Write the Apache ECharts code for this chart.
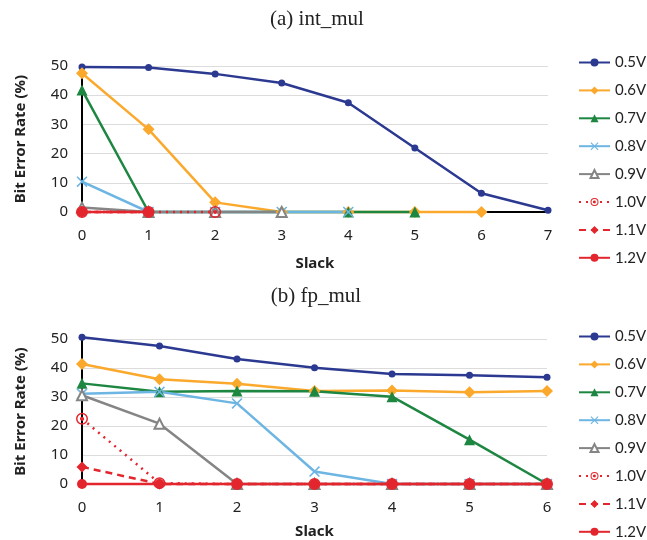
<!DOCTYPE html>
<html><head><meta charset="utf-8">
<script src="https://cdn.jsdelivr.net/npm/echarts@6/dist/echarts.min.js"></script>
<style>html,body{margin:0;padding:0;background:#fff}#c{width:647px;height:540px}</style>
</head><body><div id="c"></div>
<script>
const seriesNames = ['0.5V','0.6V','0.7V','0.8V','0.9V','1.0V','1.1V','1.2V'];
const slackA = ['0','1','2','3','4','5','6','7'];
const slackB = ['0','1','2','3','4','5','6'];
const yTicks = [0,10,20,30,40,50];
// (a) int_mul
const a05 = [49.7, 49.5, 47.3, 44.2, 37.4, 21.9, 6.4, 0.6];
const a06 = [47.5, 28.3, 3.3, 0, 0, 0, 0];
const a07 = [41.8, 0, 0, 0, 0, 0];
const a08 = [10.4, 0, 0, 0, 0];
const a09 = [1.5, 0, 0, 0];
const a10 = [0, 0, 0];
const a11 = [0, 0];
const a12 = [0, 0];
// (b) fp_mul
const b05 = [50.6, 47.6, 43.1, 40.1, 37.9, 37.5, 36.8];
const b06 = [41.4, 36.1, 34.6, 32.1, 32.2, 31.6, 32.1];
const b07 = [34.7, 31.8, 32.1, 32.0, 30.1, 15.3, 0];
const b08 = [31.1, 31.8, 27.8, 4.3, 0, 0, 0];
const b09 = [30.6, 20.8, 0, 0, 0, 0, 0];
const b10 = [22.5, 0.3, 0, 0, 0, 0, 0];
const b11 = [5.9, 0, 0, 0, 0, 0, 0];
const b12 = [0, 0, 0, 0, 0, 0, 0];

const dataA = [a05,a06,a07,a08,a09,a10,a11,a12];
const dataB = [b05,b06,b07,b08,b09,b10,b11,b12];

const RED = '#E3262D';
const xPath = 'path://M-10,-8 L-8,-10 L0,-2 L8,-10 L10,-8 L2,0 L10,8 L8,10 L0,2 L-8,10 L-10,8 L-2,0 Z';
const ringPath = 'path://M0,-10 A10,10 0 1,1 0,10 A10,10 0 1,1 0,-10 Z M0,-7.5 A7.5,7.5 0 1,0 0,7.5 A7.5,7.5 0 1,0 0,-7.5 Z M0,-3.5 A3.5,3.5 0 1,1 0,3.5 A3.5,3.5 0 1,1 0,-3.5 Z';
const styles = [
  {color:'#2B3990', symbol:'circle', size:7, type:'solid'},
  {color:'#FBA92C', symbol:'diamond', size:12, type:'solid'},
  {color:'#1D8641', symbol:'triangle', size:11, type:'solid'},
  {color:'#6DB5E3', symbol:xPath, size:11, type:'solid'},
  {color:'#858585', symbol:'emptyTriangle', size:10, type:'solid'},
  {color:RED, symbol:ringPath, size:12, type:[2,5]},
  {color:RED, symbol:'diamond', size:11, type:[7,5]},
  {color:RED, symbol:'circle', size:10, type:'solid'}
];

function mkSeries(data, idx) {
  return data.map((d, i) => {
    const s = styles[i];
    const empty = s.symbol === 'emptyTriangle';
    return {
      name: seriesNames[i], type:'line', xAxisIndex: idx, yAxisIndex: idx,
      data: d, symbol: s.symbol, symbolSize: s.size, showAllSymbol: true,
      clip: false,
      lineStyle: {color: s.color, width: 2.5, type: s.type},
      itemStyle: {color: s.color, borderColor: s.color, borderWidth: empty ? 1.6 : 0},
      emphasis: {disabled: true}
    };
  });
}

const tickFont = {fontFamily:'Noto Sans', fontSize:15, color:'#222'};
function xAxis(cats, idx) {
  return {type:'category', gridIndex: idx, data: cats, boundaryGap:false,
    name:'Slack', nameLocation:'middle', nameGap: idx===0?44:40,
    nameTextStyle:{fontFamily:'Noto Sans', fontWeight:'bold', fontSize:15, color:'#222'},
    axisLine:{lineStyle:{color:'#000', width:2}}, axisTick:{show:true, inside:true, length:4, lineStyle:{color:'#000'}},
    axisLabel:{...tickFont, margin:16}, splitLine:{show:false}};
}
function yAxis(idx) {
  return {type:'value', gridIndex: idx, min:yTicks[0], max:yTicks[yTicks.length-1], interval:10,
    name:'Bit Error Rate (%)', nameLocation:'middle', nameGap:54,
    nameTextStyle:{fontFamily:'Noto Sans', fontWeight:'bold', fontSize:15, color:'#222'},
    axisLine:{show:true, lineStyle:{color:'#000', width:2}}, axisTick:{show:false},
    axisLabel:{...tickFont, margin:14},
    splitLine:{lineStyle:{color:'#dcdcdc', width:1.2}}};
}
function legend(top) {
  return {orient:'vertical', left:578, top: top, padding:0, itemWidth:31, itemHeight:10, itemGap:12.9,
    textStyle:{fontFamily:'Lato', fontSize:15, lineHeight:14, color:'#222'},
    data: seriesNames, selectedMode:false};
}

const chart = echarts.init(document.getElementById('c'), null, {renderer:'canvas'});
chart.setOption({
  animation:false,
  title:[
    {text:'(a) int_mul', left:312, top:4, textAlign:'center', textStyle:{fontFamily:'Liberation Serif', fontWeight:'normal', fontSize:21, color:'#222'}},
    {text:'(b) fp_mul', left:311, top:281, textAlign:'center', textStyle:{fontFamily:'Liberation Serif', fontWeight:'normal', fontSize:21, color:'#222'}}
  ],
  legend:[legend(55), legend(329)],
  grid:[
    {left:82, width:466, top:66, height:146},
    {left:82, width:465, top:339, height:148}
  ],
  xAxis:[xAxis(slackA,0), xAxis(slackB,1)],
  yAxis:[yAxis(0), yAxis(1)],
  series:[...mkSeries(dataA,0), ...mkSeries(dataB,1)]
});
</script></body></html>
